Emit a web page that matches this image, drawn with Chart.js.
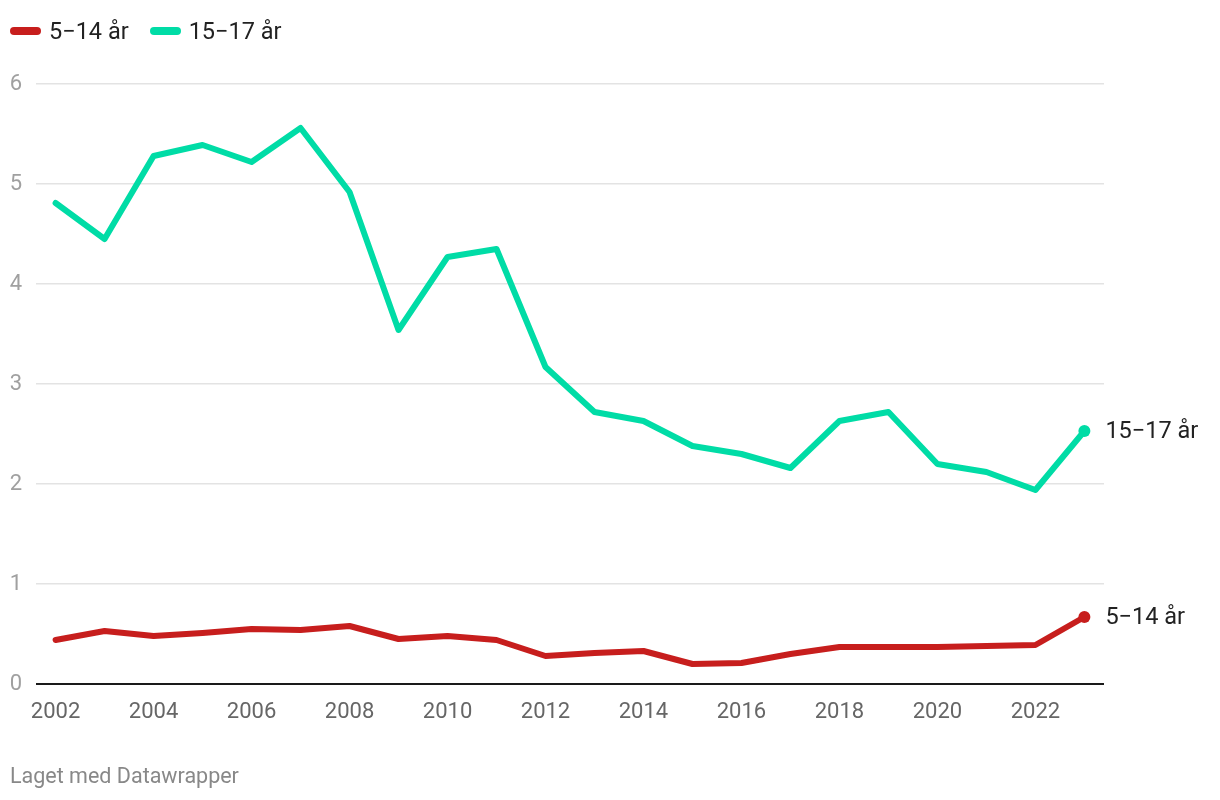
<!DOCTYPE html>
<html>
<head>
<meta charset="utf-8">
<script src="https://cdn.jsdelivr.net/npm/chart.js@4.4.1/dist/chart.umd.min.js"></script>
<style>
  html, body { margin: 0; padding: 0; background: #fff; }
  body { width: 1220px; height: 800px; position: relative; overflow: hidden; font-family: Roboto, "Noto Sans", sans-serif; }
  #wrap { position: absolute; left: 0; top: 0; width: 1220px; height: 800px; }
  .legend { position: absolute; top: 17px; left: 10px; display: flex; align-items: center; font-size: 23.5px; color: #222; line-height: 28px; }
  .legend .item { display: flex; align-items: center; margin-right: 21px; }
  .legend .sw { width: 31px; height: 8px; border-radius: 4px; margin-right: 8px; }
  .footer { position: absolute; left: 10px; top: 762px; font-size: 21.5px; color: #888; line-height: 28px; }
</style>
</head>
<body>
<div id="wrap"><canvas id="c" width="1220" height="800"></canvas></div>
<div class="legend">
  <div class="item"><span class="sw" style="background:#c71e1d"></span><span>5−14 år</span></div>
  <div class="item"><span class="sw" style="background:#00dca6"></span><span>15−17 år</span></div>
</div>
<div class="footer">Laget med Datawrapper</div>
<script>
const years = [2002,2003,2004,2005,2006,2007,2008,2009,2010,2011,2012,2013,2014,2015,2016,2017,2018,2019,2020,2021,2022,2023];
const age5to14 = [0.44,0.53,0.48,0.51,0.55,0.54,0.58,0.45,0.48,0.44,0.28,0.31,0.33,0.20,0.21,0.30,0.37,0.37,0.37,0.38,0.39,0.67];
const age15to17 = [4.81,4.45,5.28,5.39,5.22,5.56,4.92,3.54,4.27,4.35,3.17,2.72,2.63,2.38,2.30,2.16,2.63,2.72,2.20,2.12,1.94,2.53];
const seriesNames = ["5−14 år", "15−17 år"];
const xTicks = [2002,2004,2006,2008,2010,2012,2014,2016,2018,2020,2022];
const yTicks = [0,1,2,3,4,5,6];

const RED = '#c71e1d', GREEN = '#00dca6';
const toPts = vals => years.map((y, i) => ({ x: y, y: vals[i] }));
const lastIdx = years.length - 1;

const endLabels = {
  id: 'endLabels',
  afterDatasetsDraw(chart) {
    const ctx = chart.ctx;
    ctx.save();
    ctx.font = '23.5px Roboto, "Noto Sans", sans-serif';
    ctx.fillStyle = '#222';
    ctx.textAlign = 'left';
    ctx.textBaseline = 'middle';
    chart.data.datasets.forEach((ds, i) => {
      const meta = chart.getDatasetMeta(i);
      const pt = meta.data[meta.data.length - 1];
      ctx.fillText(ds.label, pt.x + 21, pt.y + 1);
    });
    ctx.restore();
  }
};

new Chart(document.getElementById('c'), {
  type: 'line',
  data: {
    datasets: [
      { label: seriesNames[0], data: toPts(age5to14), borderColor: RED, backgroundColor: RED, borderWidth: 6,
        pointRadius: c => c.dataIndex === lastIdx ? 6 : 0, pointBorderWidth: 0, pointBackgroundColor: RED,
        borderCapStyle: 'round', borderJoinStyle: 'round', tension: 0 },
      { label: seriesNames[1], data: toPts(age15to17), borderColor: GREEN, backgroundColor: GREEN, borderWidth: 6,
        pointRadius: c => c.dataIndex === lastIdx ? 6 : 0, pointBorderWidth: 0, pointBackgroundColor: GREEN,
        borderCapStyle: 'round', borderJoinStyle: 'round', tension: 0 }
    ]
  },
  options: {
    responsive: false,
    animation: false,
    devicePixelRatio: 1,
    layout: { padding: { left: 0, right: 116, top: 84, bottom: 76 } },
    plugins: { legend: { display: false }, tooltip: { enabled: false } },
    scales: {
      x: {
        type: 'linear', min: 2001.6, max: 2023.4,
        afterBuildTicks: s => { s.ticks = xTicks.map(v => ({ value: v })); },
        afterFit: s => { s.height = 40; },
        border: { display: false },
        grid: { display: false, drawTicks: false },
        ticks: { color: '#666', font: { family: 'Roboto', size: 22 }, padding: 15, maxRotation: 0, autoSkip: false,
                 callback: v => String(v) }
      },
      y: {
        min: 0, max: 6,
        afterBuildTicks: s => { s.ticks = yTicks.map(v => ({ value: v })); },
        afterFit: s => { s.width = 36; },
        border: { display: false },
        grid: { drawTicks: false, color: c => c.tick && c.tick.value === 0 ? '#1a1a1a' : '#e3e3e3',
                lineWidth: c => c.tick && c.tick.value === 0 ? 2 : 1.5 },
        ticks: { color: '#a0a0a0', font: { family: 'Roboto', size: 22 }, padding: 14 }
      }
    }
  },
  plugins: [endLabels]
});
</script>
</body>
</html>
